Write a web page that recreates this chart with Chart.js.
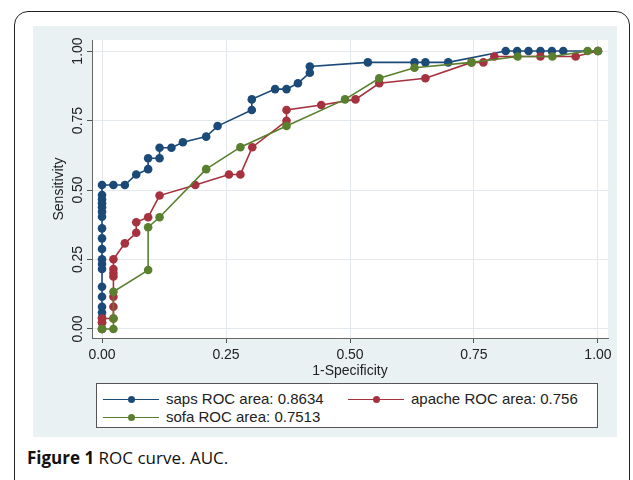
<!DOCTYPE html>
<html>
<head>
<meta charset="utf-8">
<script src="https://cdn.jsdelivr.net/npm/chart.js@4.4.0/dist/chart.umd.min.js"></script>
<style>
body { margin:0; width:633px; height:480px; background:#fff; position:relative; overflow:hidden; font-family:"Liberation Sans", Arial, sans-serif; }
#frame { position:absolute; left:14px; top:11px; width:616px; height:540px; border:1.5px solid #222; border-radius:14px; box-sizing:border-box; }
#panel { position:absolute; left:33px; top:26px; width:584px; height:411px; background:#eaf1f3; }
#wrap { position:absolute; left:0; top:0; width:584px; height:354px; }
#legend { position:absolute; left:63px; top:357px; width:502px; height:45px; background:#fff; border:1px solid #555; box-sizing:border-box; }
.item { position:absolute; height:16px; font-size:15px; line-height:16px; color:#222; white-space:nowrap; }
.item .ln { position:absolute; left:0; top:8px; width:56px; height:1.2px; }
.item .dt { position:absolute; left:24.5px; top:5px; width:7px; height:7px; border-radius:50%; }
.item .tx { position:absolute; left:63px; top:0; }
#caption { position:absolute; left:27px; top:446px; font-family:"Open Sans", sans-serif; font-size:17px; color:#111; }
</style>
</head>
<body>
<div id="frame"></div>
<div id="panel">
  <div id="wrap"><canvas id="roc"></canvas></div>
  <div id="legend"></div>
</div>
<div id="caption"><b>Figure 1</b> ROC curve. AUC.</div>
<script>
// saps
var sapsX = [0, 0, 0, 0, 0, 0, 0, 0, 0, 0, 0, 0, 0, 0, 0, 0, 0, 0, 0, 0,
  0.023, 0.046, 0.069, 0.093, 0.093, 0.116, 0.116, 0.14, 0.163, 0.21, 0.233, 0.302, 0.302,
  0.349, 0.372, 0.395, 0.419, 0.419, 0.536, 0.63, 0.652, 0.698, 0.814, 0.837, 0.86, 0.884, 0.907, 0.93, 1];
var sapsY = [0, 0.023, 0.04, 0.059, 0.08, 0.116, 0.152, 0.216, 0.234, 0.251, 0.288, 0.326, 0.362, 0.404, 0.422, 0.438, 0.452, 0.466, 0.482, 0.518,
  0.518, 0.518, 0.556, 0.575, 0.614, 0.614, 0.652, 0.652, 0.672, 0.692, 0.73, 0.788, 0.826,
  0.863, 0.863, 0.884, 0.922, 0.944, 0.959, 0.959, 0.959, 0.959, 1, 1, 1, 1, 1, 1, 1];
// apache
var apacheX = [0, 0, 0, 0.023, 0.023, 0.023, 0.023, 0.023, 0.023, 0.023, 0.046, 0.069, 0.069, 0.093, 0.116,
  0.188, 0.256, 0.279, 0.303, 0.372, 0.372, 0.442, 0.511, 0.559, 0.652, 0.745, 0.769, 0.791, 0.884, 0.955, 1];
var apacheY = [0, 0.023, 0.038, 0.038, 0.08, 0.116, 0.189, 0.201, 0.216, 0.251, 0.308, 0.346, 0.384, 0.402, 0.48,
  0.518, 0.556, 0.556, 0.654, 0.749, 0.788, 0.806, 0.826, 0.884, 0.902, 0.959, 0.959, 0.98, 0.98, 0.98, 1];
// sofa
var sofaX = [0, 0.023, 0.023, 0.023, 0.093, 0.093, 0.116, 0.21, 0.279, 0.372, 0.49, 0.559, 0.63, 0.745, 0.838, 0.908, 0.979, 1];
var sofaY = [0, 0, 0.038, 0.134, 0.212, 0.366, 0.402, 0.575, 0.654, 0.73, 0.826, 0.902, 0.94, 0.959, 0.98, 0.98, 1, 1];

var seriesNames = ['saps ROC area: 0.8634', 'apache ROC area: 0.756', 'sofa ROC area: 0.7513'];
var seriesColors = ['#1c4a78', '#a5323e', '#5a7f2e'];
var tickVals = [0, 0.25, 0.5, 0.75, 1];
var xTitle = '1-Specificity';
var yTitle = 'Sensitivity';

function pts(xs, ys) {
  var out = [];
  for (var i = 0; i < xs.length; i++) out.push({x: xs[i], y: ys[i]});
  return out;
}

function ds(i, xs, ys, order) {
  return {
    label: seriesNames[i],
    data: pts(xs, ys),
    showLine: true,
    borderColor: seriesColors[i],
    backgroundColor: seriesColors[i],
    borderWidth: 1.6,
    pointRadius: 4.3,
    pointBorderWidth: 0,
    order: order
  };
}

var whiteArea = {
  id: 'whiteArea',
  beforeDraw: function (chart) {
    var a = chart.chartArea;
    chart.ctx.save();
    chart.ctx.fillStyle = '#ffffff';
    chart.ctx.fillRect(a.left, a.top, a.right - a.left, a.bottom - a.top);
    chart.ctx.restore();
  }
};

var axisFont = {family: '"Liberation Sans", Arial, sans-serif', size: 14};

var chart = new Chart(document.getElementById('roc'), {
  type: 'scatter',
  data: {
    datasets: [
      ds(0, sapsX, sapsY, 3),
      ds(1, apacheX, apacheY, 2),
      ds(2, sofaX, sofaY, 1)
    ]
  },
  options: {
    responsive: true,
    maintainAspectRatio: false,
    animation: false,
    layout: {padding: {top: 14, right: 9, left: 0, bottom: 0}},
    plugins: {legend: {display: false}, tooltip: {enabled: false}},
    scales: {
      x: {
        type: 'linear',
        min: -0.0202, max: 1.0202,
        afterBuildTicks: function (s) { s.ticks = tickVals.map(function (v) { return {value: v}; }); },
        afterFit: function (s) { s.height = 42; },
        ticks: {
          font: axisFont, color: '#222', padding: 4, maxRotation: 0,
          callback: function (v) { return v.toFixed(2); }
        },
        grid: {color: '#e3e9ec', tickColor: '#555', tickLength: 5, lineWidth: 1},
        border: {color: '#666', width: 1},
        title: {display: true, text: xTitle, font: axisFont, color: '#222', padding: {top: 0, bottom: 0}}
      },
      y: {
        type: 'linear',
        min: -0.0324, max: 1.0396,
        afterBuildTicks: function (s) { s.ticks = tickVals.map(function (v) { return {value: v}; }); },
        afterFit: function (s) { s.width = 59; },
        ticks: {
          font: axisFont, color: '#222', padding: -5, minRotation: 90, maxRotation: 90, crossAlign: 'center',
          callback: function (v) { return v.toFixed(2); }
        },
        grid: {color: '#e3e9ec', tickColor: '#555', tickLength: 5, lineWidth: 1},
        border: {color: '#666', width: 1},
        title: {display: true, text: yTitle, font: axisFont, color: '#222', padding: {top: 18, bottom: 0}}
      }
    }
  },
  plugins: [whiteArea]
});

// legend
var legendPos = [[6, 7], [251, 7], [6, 25]];
var leg = document.getElementById('legend');
for (var i = 0; i < seriesNames.length; i++) {
  var it = document.createElement('div');
  it.className = 'item';
  it.style.left = legendPos[i][0] + 'px';
  it.style.top = legendPos[i][1] + 'px';
  it.innerHTML = '<div class="ln" style="background:' + seriesColors[i] + '"></div>' +
    '<div class="dt" style="background:' + seriesColors[i] + '"></div>' +
    '<span class="tx">' + seriesNames[i] + '</span>';
  leg.appendChild(it);
}
</script>
</body>
</html>
